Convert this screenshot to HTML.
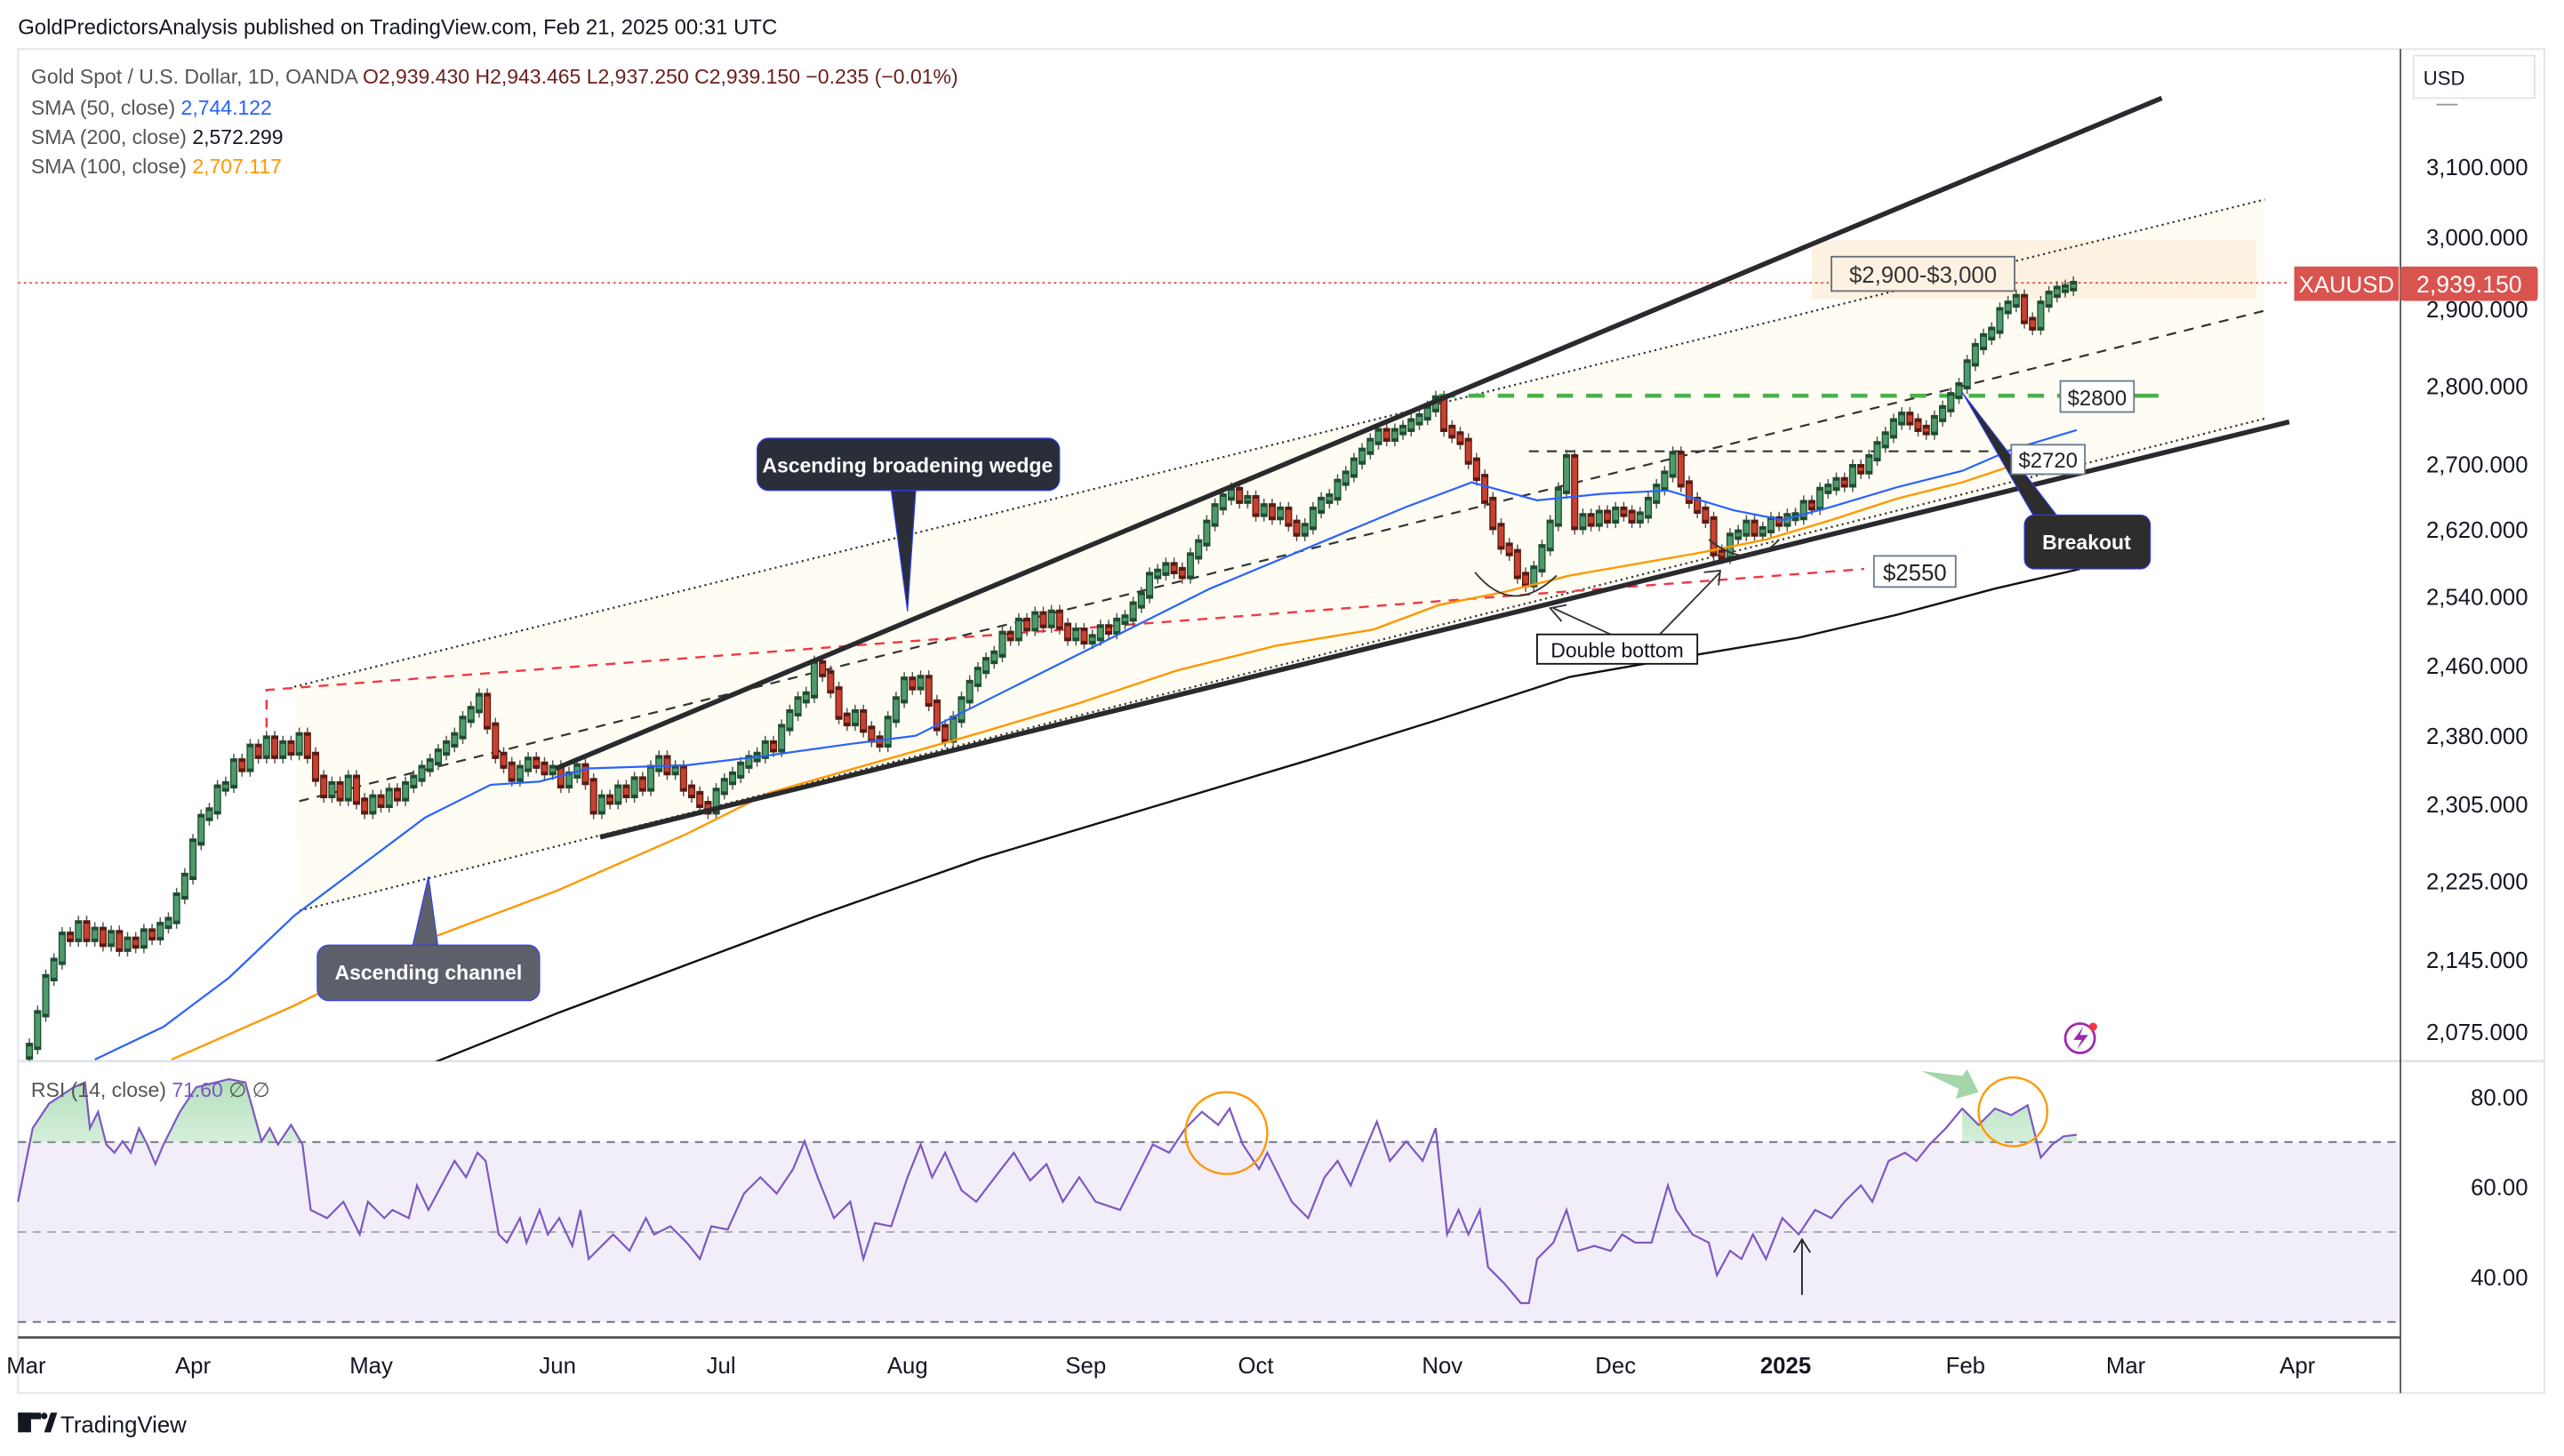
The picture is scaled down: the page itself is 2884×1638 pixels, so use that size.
<!DOCTYPE html>
<html><head><meta charset="utf-8"><style>
html,body{margin:0;padding:0;background:#fff;}
svg{display:block;}
text{font-family:"Liberation Sans",sans-serif;}
</style></head><body>
<svg width="2884" height="1638" viewBox="0 0 1568 890.5" preserveAspectRatio="none" xmlns="http://www.w3.org/2000/svg">
<defs>
<clipPath id="top"><rect x="11" y="30" width="1457" height="619"/></clipPath>
<clipPath id="ob"><rect x="11" y="650" width="1457" height="48.5"/></clipPath>
<linearGradient id="gg" x1="0" y1="0" x2="0" y2="1"><stop offset="0" stop-color="#8fd19e" stop-opacity="0.7"/><stop offset="1" stop-color="#c8ebd0" stop-opacity="0.3"/></linearGradient>
<marker id="wk" markerUnits="userSpaceOnUse" markerWidth="2" markerHeight="10" refX="1" refY="5" overflow="visible" orient="0"><line x1="1" y1="0" x2="1" y2="10" stroke="#555" stroke-width="0.8"/></marker>
</defs>
<rect width="1568" height="890.5" fill="#fff"/>
<text x="11" y="21" font-size="13" fill="#131722">GoldPredictorsAnalysis published on TradingView.com, Feb 21, 2025 00:31 UTC</text>
<rect x="11" y="30" width="1545" height="822" fill="none" stroke="#e6e8ec" stroke-width="1.2"/>
<rect x="11" y="698.5" width="1457" height="110" fill="#7e57c2" fill-opacity="0.1"/>
<line x1="11" y1="698.5" x2="1468" y2="698.5" stroke="#787b86" stroke-dasharray="5,4" stroke-width="1.2"/>
<line x1="11" y1="753.5" x2="1468" y2="753.5" stroke="#a0a3ab" stroke-dasharray="5,4" stroke-width="1"/>
<line x1="11" y1="808.5" x2="1468" y2="808.5" stroke="#787b86" stroke-dasharray="5,4" stroke-width="1.2"/>
<line x1="11" y1="649" x2="1556" y2="649" stroke="#e0e3eb" stroke-width="1.5"/>
<line x1="11" y1="818" x2="1468" y2="818" stroke="#555" stroke-width="1.5"/>
<line x1="1468" y1="30" x2="1468" y2="852" stroke="#555" stroke-width="1"/>
<g clip-path="url(#top)">
<polygon points="180,420 1385,122 1385,258 183,557" fill="#fffdf3"/>
<rect x="1108" y="147" width="272" height="36" fill="#fdf2e2"/>
<line x1="11" y1="173" x2="1400" y2="173" stroke="#d9534f" stroke-dasharray="1.5,2" stroke-width="1"/>
<line x1="180" y1="420" x2="1385" y2="122" stroke="#333" stroke-dasharray="1.2,2.2" stroke-width="1.2"/>
<line x1="183" y1="557" x2="1385" y2="256" stroke="#333" stroke-dasharray="1.2,2.2" stroke-width="1.2"/>
<line x1="183" y1="490" x2="1385" y2="190" stroke="#333" stroke-dasharray="6,5" stroke-width="1.2"/>
<polyline points="163,445 163,422 1140,348" fill="none" stroke="#f23645" stroke-dasharray="6,5" stroke-width="1.3"/>
<line x1="880" y1="242" x2="1260" y2="242" stroke="#4caf50" stroke-dasharray="10,8" stroke-width="2.5"/>
<line x1="1305" y1="242" x2="1320" y2="242" stroke="#4caf50" stroke-width="2.5"/>
<line x1="935" y1="276" x2="1232" y2="276" stroke="#333" stroke-dasharray="6,5" stroke-width="1.2"/>
<path id="gb" d="M18 646V640M23 640V620M28 620V598M33 598V588M38 588V572M48 574V565M58 574V569M68 577V571M78 580V575M88 578V570M98 573V566M103 566V563M108 563V548M113 548V536M118 536V515M123 515V500M128 500V496M133 496V482M138 482V480M143 480V466M153 470V457M163 462V452M173 462V455M183 460V450M203 486V480M213 488V476M228 496V488M238 492V484M248 488V480M253 480V476M258 476V470M263 470V466M268 466V460M273 460V455M278 455V450M283 450V440M288 440V434M293 434V426M318 476V470M323 470V465M338 472V470M348 480V474M353 474V469M368 496V488M378 490V482M388 486V477M398 482V470M403 470V464M413 472V470M438 496V484M443 484V478M448 478V474M453 474V468M458 468V464M463 464V462M468 462V455M478 458V445M483 445V436M488 436V428M493 428V425M498 425V406M523 442V436M543 455V440M548 440V428M553 428V416M563 420V415M583 452V440M588 440V428M593 428V418M598 418V410M603 410V404M608 404V400M613 400V388M623 390V380M633 384V376M643 382V375M658 390V386M668 392V390M673 390V384M683 386V380M688 380V378M693 378V370M698 370V364M703 364V352M708 352V350M713 350V346M728 352V340M733 340V332M738 332V320M743 320V310M748 310V304M753 304V300M763 306V305M773 314V310M783 316V312M798 326V322M803 322V312M808 312V306M813 306V304M818 304V295M823 295V290M828 290V282M833 282V276M838 276V270M843 270V264M853 268V264M858 264V262M863 262V258M868 258V255M873 255V250M878 250V244M938 357V348M943 348V335M948 335V320M953 320V300M958 300V280M968 322V316M978 320V314M988 318V312M1003 318V315M1008 315V306M1013 306V298M1018 298V290M1023 290V278M1058 340V328M1063 328V326M1068 326V320M1078 326V324M1083 324V318M1093 320V316M1098 316.5V315.5M1103 316V308M1113 310V300M1118 300V298M1123 298V294M1133 296V286M1143 288V280M1148 280V272M1153 272V266M1158 266V258M1163 258V254M1183 264V256M1188 256V250M1193 250V242M1198 242V236M1203 236V222M1208 222V212M1213 212V206M1218 206V202M1223 202V190M1228 190V186M1233 186V182M1248 200V186M1253 186V180M1258 180V177M1263 177V176M1268 176V174"/>
<path id="rb" d="M43 572V574M53 565V574M63 569V577M73 571V580M83 575V578M93 570V573M148 466V470M158 457V462M168 452V462M178 455V460M188 450V462M193 462V476M198 476V486M208 480V488M218 476V490M223 490V496M233 488V492M243 484V488M298 426V444M303 444V462M308 462V468M313 468V476M328 465V468M333 468V472M343 470V480M358 469V478M363 478V496M373 488V490M383 482V486M393 477V482M408 464V472M418 470V482M423 482V486M428 486V492M433 492V496M473 455V458M503 406V412M508 412V422M513 422V438M518 438V442M528 436V446M533 446V452M538 452V455M558 416V420M568 415V430M573 430V445M578 445V452M618 388V390M628 380V384M638 376V382M648 375V383M653 383V390M663 386V392M678 384V386M718 346V349M723 349V352M758 300V306M768 305V314M778 310V316M788 312V320M793 320V326M848 264V268M883 244V262M888 262V266M893 266V270M898 270V282M903 282V292M908 292V306M913 306V322M918 322V334M923 334V338M928 338V352M933 352V357M963 280V322M973 316V320M983 314V318M993 312V314M998 314V318M1028 278V296M1033 296V306M1038 306V312M1043 312V318M1048 318V338M1053 338V340M1073 320V326M1088 318V320M1108 308V310M1128 294V296M1138 286V288M1168 254V258M1173 258V262M1178 262V264M1238 182V196M1243 196V200"/>
<use href="#gb" fill="none" stroke="none" marker-start="url(#wk)" marker-mid="url(#wk)" marker-end="url(#wk)"/>
<use href="#rb" fill="none" stroke="none" marker-start="url(#wk)" marker-mid="url(#wk)" marker-end="url(#wk)"/>
<use href="#gb" fill="none" stroke="#1e4d30" stroke-width="4.4" stroke-linecap="square"/>
<use href="#gb" fill="none" stroke="#4e9a6b" stroke-width="3"/>
<use href="#rb" fill="none" stroke="#5a1a12" stroke-width="4.4" stroke-linecap="square"/>
<use href="#rb" fill="none" stroke="#c8412f" stroke-width="3"/>
<polyline fill="none" stroke="#2962ff" stroke-width="1.2" points="58,648 100,628 140,598 180,560 220,530 260,500 300,480 330,478 360,470 420,468 470,462 520,455 560,450 620,420 680,390 740,360 800,335 860,310 900,295 940,306 980,302 1020,300 1060,312 1090,318 1120,310 1160,298 1200,288 1230,275 1270,263"/>
<polyline fill="none" stroke="#ff9800" stroke-width="1.3" points="105,648 180,615 260,575 340,545 420,510 470,485 540,465 600,448 660,430 720,410 780,395 840,385 880,370 920,362 960,352 1000,345 1040,338 1080,330 1120,318 1160,305 1200,295 1230,285 1250,275"/>
<polyline fill="none" stroke="#111" stroke-width="1.3" points="265,650 340,620 420,590 500,560 600,525 700,495 800,465 880,440 960,414 1040,400 1100,390 1160,376 1220,360 1272,348"/>
<line x1="340" y1="470" x2="1322" y2="60" stroke="#2a2a2e" stroke-width="3"/>
<line x1="367" y1="512" x2="1400" y2="258" stroke="#2a2a2e" stroke-width="3"/>
<path d="M902,350 Q925,378 952,352" fill="none" stroke="#333" stroke-width="1"/>
<path d="M1045,330 Q1070,350 1088,330" fill="none" stroke="#333" stroke-width="1"/>
<polyline points="985,388 950,372" fill="none" stroke="#333" stroke-width="1"/>
<polyline points="955,380 948,372 958,370" fill="none" stroke="#333" stroke-width="1"/>
<polyline points="1015,388 1052,350" fill="none" stroke="#333" stroke-width="1"/>
<polyline points="1042,350 1052,349 1051,358" fill="none" stroke="#333" stroke-width="1"/>
<path d="M545,300 L555,374 L560,300 Z" fill="#2a2e39" stroke="#2f3cff" stroke-width="0.6"/>
<rect x="463" y="268" width="185" height="32" rx="7" fill="#2a2e39" stroke="#2f3cff" stroke-width="0.6"/>
<text x="555" y="289" font-size="12.5" font-weight="bold" fill="#fff" text-anchor="middle">Ascending broadening wedge</text>
<path d="M252,580 L262,536 L268,580 Z" fill="#5d606b" stroke="#2f3cff" stroke-width="0.6"/>
<rect x="194" y="578" width="136" height="34" rx="7" fill="#5d606b" stroke="#2f3cff" stroke-width="0.6"/>
<text x="262" y="599" font-size="12.5" font-weight="bold" fill="#fff" text-anchor="middle">Ascending channel</text>
<path d="M1200,240 L1245,318 L1260,318 Z" fill="#2d2d2d" stroke="#2f3cff" stroke-width="0.6"/>
<rect x="1238" y="315" width="77" height="33" rx="6" fill="#2d2d2d" stroke="#2f3cff" stroke-width="0.6"/>
<text x="1276" y="336" font-size="12.5" font-weight="bold" fill="#fff" text-anchor="middle">Breakout</text>
<rect x="940" y="388" width="98" height="18" fill="#fff" stroke="#111" stroke-width="1"/>
<text x="989" y="402" font-size="12.5" fill="#131722" text-anchor="middle">Double bottom</text>
<rect x="1120" y="157" width="112" height="21" fill="#fdf2e2" stroke="#6b6f7a" stroke-width="1"/>
<text x="1176" y="173" font-size="14" fill="#333" text-anchor="middle">$2,900-$3,000</text>
<rect x="1260" y="233" width="45" height="19" fill="#fff" stroke="#6b7b8c" stroke-width="1"/>
<text x="1282.5" y="248" font-size="13" fill="#222" text-anchor="middle">$2800</text>
<rect x="1230" y="272" width="45" height="18" fill="#fff" stroke="#6b7b8c" stroke-width="1"/>
<text x="1252.5" y="286" font-size="13" fill="#222" text-anchor="middle">$2720</text>
<rect x="1146" y="340" width="50" height="19" fill="#fff" stroke="#6b7b8c" stroke-width="1"/>
<text x="1171" y="355" font-size="14" fill="#222" text-anchor="middle">$2550</text>
<circle cx="1272" cy="635" r="9" fill="none" stroke="#9c27b0" stroke-width="1.5"/>
<path d="M1274,628 L1268,636 L1273,636 L1270,642 L1277,633 L1272,633 Z" fill="#9c27b0"/>
<circle cx="1280" cy="628" r="2.5" fill="#f23645"/>
</g>
<text x="19" y="51" font-size="12.5" fill="#555">Gold Spot / U.S. Dollar, 1D, OANDA <tspan fill="#6b1d1d">O2,939.430</tspan> <tspan fill="#6b1d1d">H2,943.465</tspan> <tspan fill="#6b1d1d">L2,937.250</tspan> <tspan fill="#6b1d1d">C2,939.150</tspan> <tspan fill="#6b1d1d">−0.235 (−0.01%)</tspan></text>
<text x="19" y="70" font-size="12.5" fill="#555">SMA (50, close) <tspan fill="#2962ff">2,744.122</tspan></text>
<text x="19" y="88" font-size="12.5" fill="#555">SMA (200, close) <tspan fill="#131722">2,572.299</tspan></text>
<text x="19" y="106" font-size="12.5" fill="#555">SMA (100, close) <tspan fill="#ff9800">2,707.117</tspan></text>
<polygon clip-path="url(#ob)" fill="url(#gg)" points="11,698.5 11,735 20,690 30,675 45,665 52,662 55,690 60,680 65,700 70,705 75,698 80,705 85,690 90,700 95,712 100,700 110,680 120,665 140,660 150,662 160,698 165,690 170,700 178,688 185,700 190,740 1200,740 1200,678 1210,688 1220,678 1230,682 1240,676 1248,708 1255,700 1262,695 1270,694 1270,698.5"/>
<polyline fill="none" stroke="#7e57c2" stroke-width="1.2" points="11,735 20,690 30,675 45,665 52,662 55,690 60,680 65,700 70,705 75,698 80,705 85,690 90,700 95,712 100,700 110,680 120,665 140,660 150,662 160,698 165,690 170,700 178,688 185,700 190,740 200,745 210,735 220,755 225,735 235,745 240,740 250,745 255,725 262,740 270,725 278,710 285,720 292,705 297,710 305,755 310,760 318,745 322,760 330,740 335,755 342,745 350,762 355,740 360,770 365,765 375,755 385,765 395,745 400,755 410,750 420,760 428,770 435,750 445,752 455,730 465,720 475,730 485,715 492,698 500,720 510,745 520,735 528,770 535,748 545,750 555,720 563,700 570,720 578,705 588,728 597,735 610,718 620,705 630,722 640,712 650,735 660,720 670,735 685,740 695,720 705,700 715,705 725,690 735,680 745,688 752,678 760,700 770,715 775,705 790,735 800,745 810,720 818,710 826,725 834,705 842,686 850,710 860,698 870,710 878,690 885,755 892,740 898,755 905,740 910,775 920,785 930,797 935,797 940,770 950,760 958,740 965,765 975,762 985,765 992,755 1000,760 1010,760 1020,725 1025,740 1035,755 1045,760 1050,780 1058,765 1065,770 1072,755 1080,770 1090,745 1100,755 1110,740 1120,745 1128,735 1138,725 1145,735 1155,710 1165,705 1172,710 1180,700 1190,690 1200,678 1210,688 1220,678 1230,682 1240,676 1248,708 1255,700 1262,695 1270,694"/>
<ellipse cx="750" cy="693" rx="25" ry="25" fill="none" stroke="#ff9800" stroke-width="1.3"/>
<ellipse cx="1231" cy="680" rx="21" ry="21" fill="none" stroke="#ff9800" stroke-width="1.3"/>
<path d="M1175,655 L1200,658 L1203,654 L1210,668 L1196,672 L1198,666 Z" fill="#a5d6a7"/>
<line x1="1102" y1="792" x2="1102" y2="758" stroke="#222" stroke-width="1"/>
<polyline points="1097,766 1102,758 1107,766" fill="none" stroke="#222" stroke-width="1"/>
<text x="19" y="671" font-size="12.5" fill="#555">RSI (14, close) <tspan fill="#7e57c2">71.60</tspan> ∅ ∅</text>
<rect x="1476" y="34" width="74" height="26" fill="#fff" stroke="#e0e3eb"/>
<text x="1482" y="52" font-size="12" fill="#131722">USD</text>
<line x1="1490" y1="64" x2="1503" y2="64" stroke="#999"/>
<g font-size="14" fill="#131722" text-anchor="end">
<text x="1546" y="107">3,100.000</text><text x="1546" y="150">3,000.000</text><text x="1546" y="194">2,900.000</text>
<text x="1546" y="241">2,800.000</text><text x="1546" y="289">2,700.000</text><text x="1546" y="329">2,620.000</text>
<text x="1546" y="370">2,540.000</text><text x="1546" y="412">2,460.000</text><text x="1546" y="455">2,380.000</text>
<text x="1546" y="497">2,305.000</text><text x="1546" y="544">2,225.000</text><text x="1546" y="592">2,145.000</text>
<text x="1546" y="636">2,075.000</text>
<text x="1546" y="676">80.00</text><text x="1546" y="731">60.00</text><text x="1546" y="786">40.00</text>
</g>
<rect x="1403" y="163" width="64" height="21" fill="#d9534f"/>
<rect x="1468" y="163" width="84" height="21" rx="2" fill="#d9534f"/>
<text x="1435" y="179" font-size="14" fill="#fff" text-anchor="middle">XAUUSD</text>
<text x="1510" y="179" font-size="14.5" fill="#fff" text-anchor="middle">2,939.150</text>
<g font-size="14" fill="#131722" text-anchor="middle">
<text x="16" y="840">Mar</text><text x="118" y="840">Apr</text><text x="227" y="840">May</text><text x="341" y="840">Jun</text>
<text x="441" y="840">Jul</text><text x="555" y="840">Aug</text><text x="664" y="840">Sep</text><text x="768" y="840">Oct</text>
<text x="882" y="840">Nov</text><text x="988" y="840">Dec</text><text x="1092" y="840" font-weight="bold">2025</text>
<text x="1202" y="840">Feb</text><text x="1300" y="840">Mar</text><text x="1405" y="840">Apr</text>
</g>
<rect x="11" y="864" width="8" height="12" fill="#131722"/><rect x="11" y="864" width="14" height="4" fill="#131722"/><path d="M27,876 L31,864 L35,864 L31,876 Z" fill="#131722"/><circle cx="27" cy="866" r="2" fill="#131722"/>
<text x="37" y="876" font-size="14" fill="#131722">TradingView</text>
</svg>
</body></html>
